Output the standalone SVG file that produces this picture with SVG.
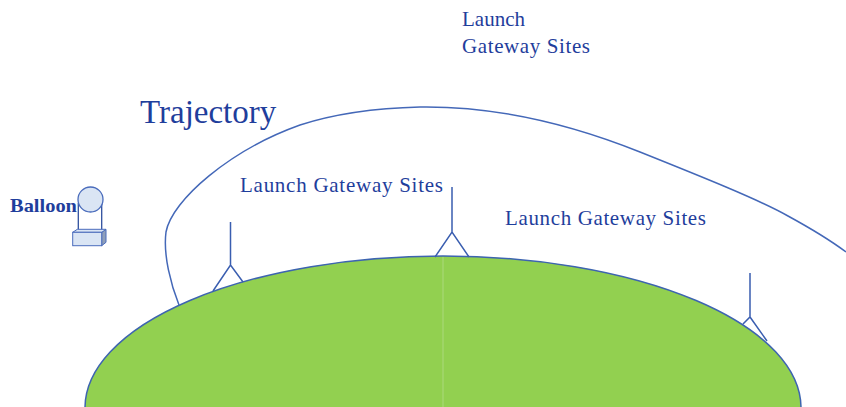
<svg xmlns="http://www.w3.org/2000/svg" width="846" height="407" viewBox="0 0 846 407">
  <style>
    .lbl { font-family: "Liberation Serif", "Times New Roman", serif; fill: #1f3e9c; }
    .site { font-size: 21px; }
    .ant { fill: none; stroke: #3a5eb0; stroke-width: 1.5; stroke-linejoin: miter; }
    .traj { fill: none; stroke: #4468b8; stroke-width: 1.5; }
  </style>

  <rect width="846" height="407" fill="#ffffff"/>

  <!-- Earth surface -->
  <g id="earth">
    <ellipse cx="443" cy="408" rx="358" ry="152" fill="#92d050" stroke="#3d64b0" stroke-width="1.5"/>
    <line x1="443" y1="257" x2="443" y2="407" stroke="#b3dc88" stroke-width="0.8"/>
  </g>

  <!-- Trajectory connector -->
  <g id="connectors">
    <path class="traj" d="M179,305 C171,285 163,255 166,232 C172,200 230,150 300,125 C340,112 380,108 420,107 C490,106 560,120 640,152 C700,176 760,200 788,216 C810,228 830,240 846,252"/>
  </g>

  <!-- Launch gateway antennas -->
  <g id="site-left">
    <path class="ant" d="M230.5,222 V265 M213,291 L230.5,265 L243,282"/>
  </g>
  <g id="site-middle">
    <path class="ant" d="M452,187 V232 M435,257 L452,232 L469,257"/>
  </g>
  <g id="site-right">
    <path class="ant" d="M750,273 V317 M743,324 L750,317 L767,341"/>
  </g>

  <!-- Balloon -->
  <g id="balloon">
    <line x1="78.3" y1="203" x2="78.3" y2="230" stroke="#2f4f9e" stroke-width="1.3"/>
    <line x1="101.7" y1="200" x2="101.7" y2="230" stroke="#2f4f9e" stroke-width="1.3"/>
    <circle cx="90.5" cy="199.5" r="12.5" fill="#dae5f4" stroke="#4a6cbc" stroke-width="1.3"/>
    <polygon points="101.7,232.3 106,229.3 106,242.3 101.7,245.7" fill="#8f9fba" stroke="#4a6cbc" stroke-width="1"/>
    <polygon points="72.7,232.3 77.3,229.3 106,229.3 101.7,232.3" fill="#dae5f4" stroke="#4a6cbc" stroke-width="1"/>
    <rect x="72.7" y="232.3" width="29" height="13.4" fill="#dae5f4" stroke="#4a6cbc" stroke-width="1"/>
    <text class="lbl" x="10" y="212" font-size="19" font-weight="bold" textLength="67" lengthAdjust="spacingAndGlyphs">Balloon</text>
  </g>

  <!-- Labels -->
  <g id="label-trajectory">
    <text class="lbl" x="140" y="123" font-size="33">Trajectory</text>
  </g>
  <g id="label-sites-top">
    <text class="lbl site" x="462" y="26">Launch</text>
    <text class="lbl site" x="462" y="53" textLength="128" lengthAdjust="spacing">Gateway Sites</text>
  </g>
  <g id="label-sites-left">
    <text class="lbl site" x="240" y="192" textLength="203" lengthAdjust="spacing">Launch Gateway Sites</text>
  </g>
  <g id="label-sites-right">
    <text class="lbl site" x="505" y="225" textLength="201" lengthAdjust="spacing">Launch Gateway Sites</text>
  </g>
</svg>
